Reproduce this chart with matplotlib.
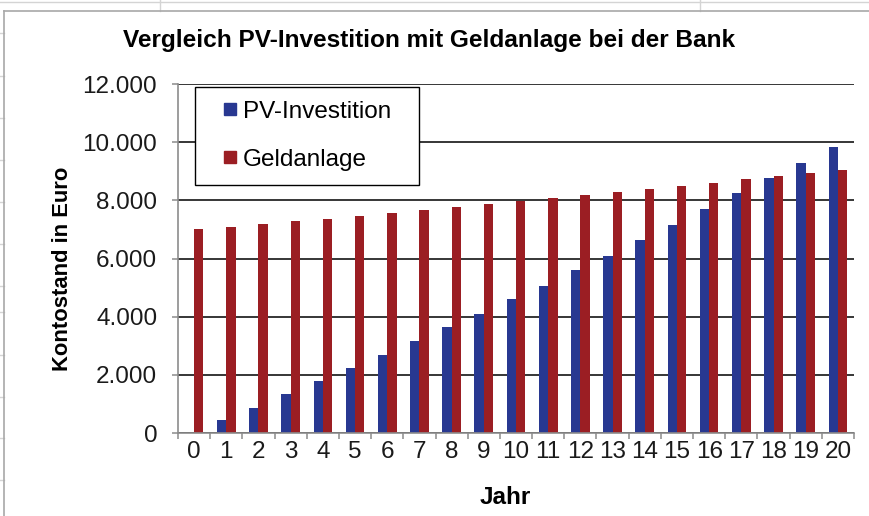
import numpy as np
import matplotlib
matplotlib.use('Agg')
from matplotlib import pyplot as plt
from matplotlib.lines import Line2D
from matplotlib.patches import Rectangle

plt.rcParams['font.family'] = ['Liberation Sans', 'DejaVu Sans']

# Kontostand pro Jahr
jahre = list(range(21))
pv_investition = [0, 440, 870, 1340, 1780, 2240, 2680, 3150, 3640, 4100, 4600,
                  5060, 5590, 6100, 6640, 7160, 7700, 8240, 8770, 9300, 9830]
geldanlage = [7000, 7090, 7180, 7280, 7370, 7470, 7560, 7660, 7760, 7860, 7960,
              8070, 8170, 8280, 8390, 8500, 8610, 8720, 8830, 8930, 9050]
y_ticks = [0, 2000, 4000, 6000, 8000, 10000, 12000]

blau = '#283891'
rot = '#9b1e23'
grau = '#8c8c8c'

W, H = 870, 516
fig = plt.figure(figsize=(W / 100, H / 100), dpi=100)
ax = fig.add_axes([178 / W, (H - 433) / H, 676 / W, 349 / H])

x = np.arange(len(jahre))
bw = 0.29
ax.bar(x - bw / 2, pv_investition, bw, color=blau, label='PV-Investition')
ax.bar(x + bw / 2, geldanlage, bw, color=rot, label='Geldanlage')

ax.set_xlim(-0.5, len(jahre) - 0.5)
ax.set_ylim(0, 12000)
ax.set_yticks(y_ticks)
ax.set_yticklabels([f'{v:,}'.replace(',', '.') for v in y_ticks])
ax.set_xticks(x)
ax.set_xticklabels([str(j) for j in jahre])
ax.set_xticks(np.arange(-0.5, len(jahre)), minor=True)

ax.yaxis.grid(True, color='black', lw=1.1)
ax.set_axisbelow(True)
for s in ['top', 'right']:
    ax.spines[s].set_visible(False)
for s in ['left', 'bottom']:
    ax.spines[s].set_color(grau)
    ax.spines[s].set_linewidth(1.2)

ax.tick_params(axis='y', length=4.5, width=1.1, color=grau, pad=10.5,
               labelsize=17.5, labelcolor='#1a1a1a')
ax.tick_params(axis='x', which='major', length=0, pad=6,
               labelsize=17.5, labelcolor='#1a1a1a')
ax.tick_params(axis='x', which='minor', length=4, width=1.1, color=grau)

# Legendenkasten mit fester Groesse, Eintraege ohne eigenen Rahmen
ax.add_patch(Rectangle((17 / 676, (433 - 185) / 349), 224 / 676, 98 / 349,
                       transform=ax.transAxes, facecolor='white',
                       edgecolor='black', lw=1.0, zorder=4))
handles = [Line2D([], [], marker='s', ls='', color=blau, ms=8.5),
           Line2D([], [], marker='s', ls='', color=rot, ms=8.5)]
leg = ax.legend(handles, ['PV-Investition', 'Geldanlage'], loc='upper left',
                bbox_to_anchor=((223.5 - 178) / 676, (433 - 100.5) / 349),
                borderaxespad=0, borderpad=0, fontsize=17.5, frameon=False,
                labelspacing=1.08, handlelength=0.5, handletextpad=0.31)
leg.set_zorder(5)

fig.text(429 / W, 1 - 46.7 / H,
         'Vergleich PV-Investition mit Geldanlage bei der Bank',
         ha='center', va='baseline', fontsize=17.6, fontweight='bold')
fig.text(63 / W, 1 - 269 / H, 'Kontostand in Euro', rotation=90,
         ha='center', va='center', fontsize=15.8, fontweight='bold')
fig.text(505 / W, 1 - 503.5 / H, 'Jahr', ha='center', va='baseline',
         fontsize=17.5, fontweight='bold')

# Rahmen des Diagramms und Tabellenraster drumherum
raster = '#d4d4d4'
fig.add_artist(Line2D([0, 1], [1 - 1.5 / H] * 2, color=raster, lw=1))
for xp in [160, 700]:
    fig.add_artist(Line2D([xp / W] * 2, [1 - 11 / H, 1], color=raster, lw=1))
for yp in [33, 76, 118, 160, 202, 244, 286, 312, 355, 397, 438, 480]:
    fig.add_artist(Line2D([0, 4 / W], [1 - yp / H] * 2, color=raster, lw=1))
fig.add_artist(Line2D([4 / W] * 2, [0, 1 - 11 / H], color='#a8a8a8', lw=1.2))
fig.add_artist(Line2D([4 / W, 1], [1 - 11 / H] * 2, color='#a8a8a8', lw=1.2))

fig.savefig('out.png', dpi=100)
